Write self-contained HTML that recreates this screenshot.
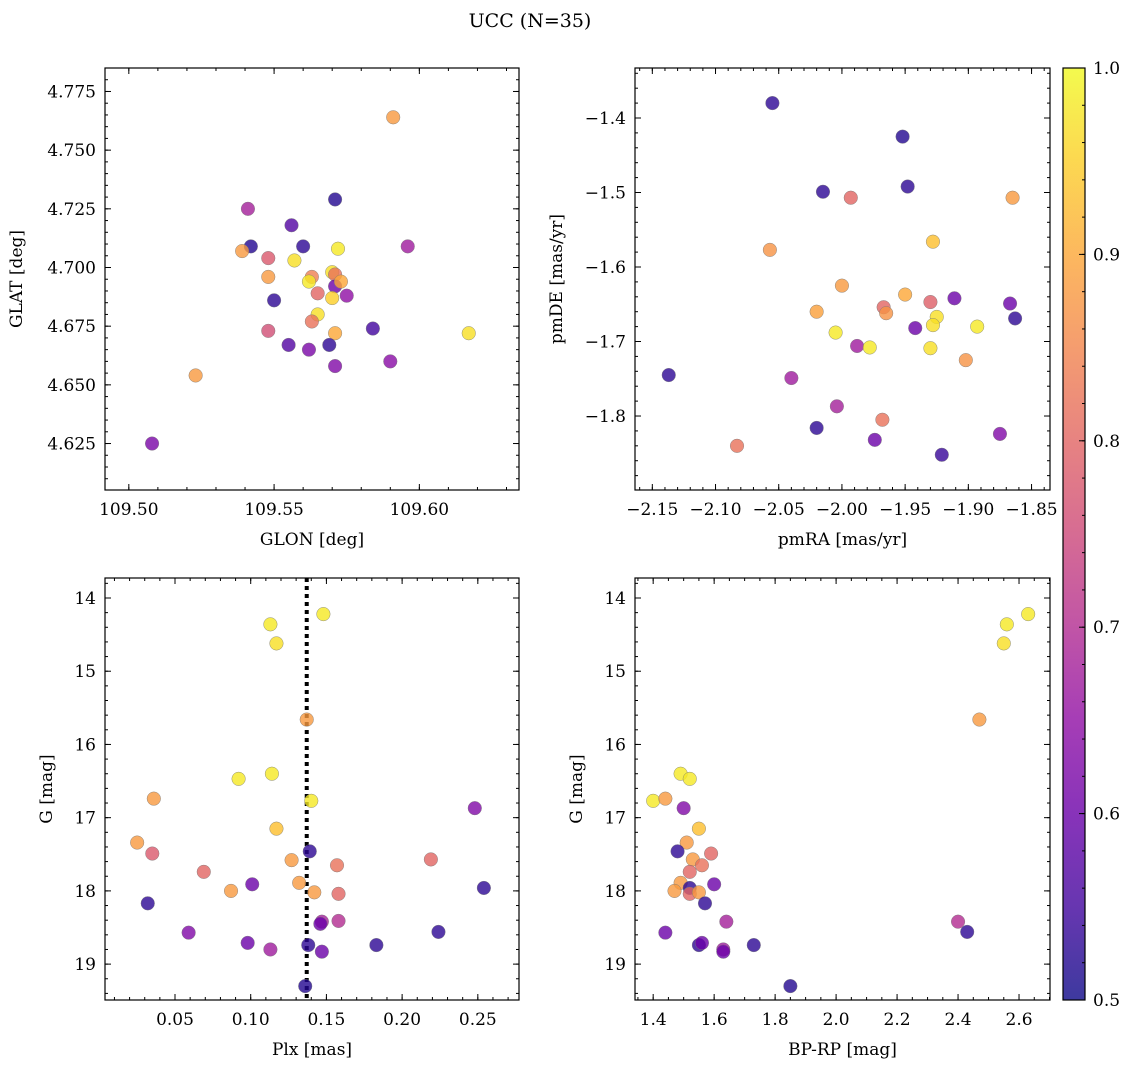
<!DOCTYPE html>
<html><head><meta charset="utf-8"><style>
html,body{margin:0;padding:0;background:#fff;}
svg{display:block;font-family:"DejaVu Serif","Liberation Serif",serif;}
</style></head><body>
<svg id="fig" width="1136" height="1067" viewBox="0 0 1136 1067" xmlns="http://www.w3.org/2000/svg">
<defs>
<linearGradient id="plasma" x1="0" y1="1" x2="0" y2="0">
<stop offset="0" stop-color="#0d0887"/><stop offset="0.1" stop-color="#41049d"/><stop offset="0.2" stop-color="#6a00a8"/><stop offset="0.3" stop-color="#8f0da4"/><stop offset="0.4" stop-color="#b12a90"/><stop offset="0.5" stop-color="#cc4778"/><stop offset="0.6" stop-color="#e16462"/><stop offset="0.7" stop-color="#f2844b"/><stop offset="0.8" stop-color="#fca636"/><stop offset="0.9" stop-color="#fcce25"/><stop offset="1" stop-color="#f0f921"/>
</linearGradient>
</defs>
<text x="530" y="27" font-size="19" text-anchor="middle">UCC (N=35)</text>
</svg>
<script>
// ---- Panel 1: GLON vs GLAT ----
const glon=[109.591,109.571,109.541,109.556,109.542,109.539,109.560,109.596,109.572,109.548,109.557,109.570,109.571,109.563,109.562,109.548,109.571,109.573,109.565,109.575,109.570,109.550,109.565,109.563,109.548,109.571,109.617,109.584,109.555,109.569,109.562,109.590,109.571,109.523,109.508];
const glat=[4.764,4.729,4.725,4.718,4.709,4.707,4.709,4.709,4.708,4.704,4.703,4.698,4.697,4.696,4.694,4.696,4.692,4.694,4.689,4.688,4.687,4.686,4.680,4.677,4.673,4.672,4.672,4.674,4.667,4.667,4.665,4.660,4.658,4.654,4.625];
const p1=[0.88,0.52,0.68,0.57,0.52,0.88,0.53,0.67,0.98,0.78,0.97,0.97,0.82,0.84,0.98,0.88,0.6,0.9,0.8,0.65,0.95,0.53,0.97,0.82,0.76,0.9,0.97,0.55,0.57,0.53,0.62,0.64,0.63,0.88,0.62];
// ---- Panel 2: pmRA vs pmDE ----
const pmra=[-2.055,-1.952,-1.948,-2.015,-1.993,-1.865,-2.057,-1.928,-2.000,-1.950,-1.911,-1.930,-1.867,-1.967,-2.020,-1.965,-1.863,-1.925,-1.928,-1.893,-1.942,-2.005,-1.988,-1.978,-1.930,-1.902,-2.137,-2.040,-2.004,-1.968,-2.020,-1.974,-1.875,-2.083,-1.921];
const pmde=[-1.380,-1.425,-1.492,-1.499,-1.507,-1.507,-1.577,-1.566,-1.625,-1.637,-1.642,-1.647,-1.649,-1.654,-1.660,-1.662,-1.669,-1.667,-1.678,-1.680,-1.682,-1.688,-1.706,-1.708,-1.709,-1.725,-1.745,-1.749,-1.787,-1.805,-1.816,-1.832,-1.824,-1.840,-1.852];
const p2=[0.53,0.52,0.53,0.53,0.8,0.88,0.87,0.93,0.88,0.9,0.6,0.79,0.6,0.8,0.89,0.87,0.53,0.97,0.97,0.98,0.6,0.98,0.67,0.98,0.97,0.87,0.53,0.67,0.68,0.82,0.53,0.6,0.63,0.82,0.54];
// ---- Panel 3: Plx vs G ----
const plx=[0.148,0.113,0.117,0.137,0.092,0.114,0.036,0.140,0.248,0.117,0.025,0.035,0.139,0.219,0.127,0.157,0.069,0.132,0.101,0.087,0.142,0.158,0.254,0.032,0.147,0.146,0.158,0.059,0.224,0.098,0.113,0.138,0.147,0.183,0.136];
const gmag3=[14.22,14.36,14.62,15.66,16.47,16.40,16.74,16.77,16.87,17.15,17.34,17.49,17.46,17.57,17.58,17.65,17.74,17.89,17.91,18.00,18.02,18.04,17.96,18.17,18.42,18.45,18.41,18.57,18.56,18.71,18.80,18.74,18.83,18.74,19.30];
const p3=[0.98,0.98,0.97,0.88,0.98,0.98,0.88,0.98,0.63,0.93,0.88,0.78,0.53,0.8,0.88,0.82,0.8,0.88,0.6,0.88,0.88,0.8,0.53,0.53,0.68,0.6,0.7,0.63,0.53,0.6,0.67,0.53,0.6,0.53,0.52];
const plxMark=[0.137];
// ---- Panel 4: BP-RP vs G ----
const bprp=[2.63,2.56,2.55,2.47,1.49,1.52,1.40,1.44,1.50,1.55,1.51,1.48,1.59,1.53,1.56,1.52,1.49,1.60,1.52,1.47,1.52,1.55,1.57,1.64,2.40,1.44,2.43,1.55,1.56,1.63,1.63,1.73,1.85];
const gmag4=[14.22,14.36,14.62,15.66,16.40,16.47,16.77,16.74,16.87,17.15,17.34,17.46,17.49,17.57,17.65,17.74,17.89,17.91,17.96,18.00,18.04,18.02,18.17,18.42,18.42,18.57,18.56,18.74,18.71,18.80,18.83,18.74,19.30];
const p4=[0.98,0.98,0.97,0.88,0.98,0.98,0.98,0.88,0.63,0.93,0.88,0.53,0.8,0.88,0.82,0.8,0.88,0.6,0.53,0.88,0.8,0.88,0.53,0.68,0.7,0.6,0.53,0.53,0.6,0.67,0.6,0.53,0.52];
// ---- Tick labels ----
const xt1=[109.50,109.55,109.60], xt1L=["109.50","109.55","109.60"];
const yt1=[4.625,4.650,4.675,4.700,4.725,4.750,4.775], yt1L=["4.625","4.650","4.675","4.700","4.725","4.750","4.775"];
const xt2=[-2.15,-2.10,-2.05,-2.00,-1.95,-1.90,-1.85], xt2L=["\u22122.15","\u22122.10","\u22122.05","\u22122.00","\u22121.95","\u22121.90","\u22121.85"];
const yt2=[-1.8,-1.7,-1.6,-1.5,-1.4], yt2L=["\u22121.8","\u22121.7","\u22121.6","\u22121.5","\u22121.4"];
const xt3=[0.05,0.10,0.15,0.20,0.25], xt3L=["0.05","0.10","0.15","0.20","0.25"];
const ytG=[14,15,16,17,18,19], ytGL=["14","15","16","17","18","19"];
const xt4=[1.4,1.6,1.8,2.0,2.2,2.4,2.6], xt4L=["1.4","1.6","1.8","2.0","2.2","2.4","2.6"];
const cbT=[0.5,0.6,0.7,0.8,0.9,1.0], cbTL=["0.5","0.6","0.7","0.8","0.9","1.0"];

const FS=17;
const NS="http://www.w3.org/2000/svg";
const svg=document.getElementById('fig');
function mk(tag,attrs,parent){const e=document.createElementNS(NS,tag);for(const k in attrs)e.setAttribute(k,attrs[k]);(parent||svg).appendChild(e);return e;}
const stops=[[0,[13,8,135]],[0.1,[65,4,157]],[0.2,[106,0,168]],[0.3,[143,13,164]],[0.4,[177,42,144]],[0.5,[204,71,120]],[0.6,[225,100,98]],[0.7,[242,132,75]],[0.8,[252,166,54]],[0.9,[252,206,37]],[1,[240,249,33]]];
function cmap(p){let t=Math.max(0,Math.min(1,(p-0.5)/0.5));for(let i=1;i<stops.length;i++){if(t<=stops[i][0]){const a=stops[i-1],b=stops[i];const f=(t-a[0])/(b[0]-a[0]);const c=a[1].map((v,j)=>Math.round(v+(b[1][j]-v)*f));return `rgb(${c[0]},${c[1]},${c[2]})`;}}return 'rgb(240,249,33)';}

function panel(cfg){
  const {name,box,xd,yd}=cfg;
  const g=mk('g',{});
  
  
  const sx=v=>box.x0+(v-xd[0])/(xd[1]-xd[0])*(box.x1-box.x0);
  const sy=v=>cfg.inv? box.y0+(v-yd[0])/(yd[1]-yd[0])*(box.y1-box.y0) : box.y1-(v-yd[0])/(yd[1]-yd[0])*(box.y1-box.y0);
  const tg=mk('g',{stroke:'#000','stroke-width':1},g);
  for(let v=cfg.xm0;v<=xd[1]+1e-9;v+=cfg.xmStep){const x=sx(v);if(x<box.x0||x>box.x1)continue;mk('line',{x1:x,x2:x,y1:box.y1,y2:box.y1-3},tg);mk('line',{x1:x,x2:x,y1:box.y0,y2:box.y0+3},tg);}
  for(let v=cfg.ym0;v<=Math.max(yd[0],yd[1])+1e-9;v+=cfg.ymStep){const y=sy(v);if(y<box.y0||y>box.y1)continue;mk('line',{x1:box.x0,x2:box.x0+3,y1:y,y2:y},tg);mk('line',{x1:box.x1,x2:box.x1-3,y1:y,y2:y},tg);}
  cfg.xt.forEach((v,i)=>{const x=sx(v);mk('line',{x1:x,x2:x,y1:box.y1,y2:box.y1-6},tg);mk('line',{x1:x,x2:x,y1:box.y0,y2:box.y0+6},tg);
    const t=mk('text',{x:x,y:box.y1+25,'font-size':FS,'text-anchor':'middle'},g);t.textContent=cfg.xtL[i];
    
    });
  cfg.yt.forEach((v,i)=>{const y=sy(v);mk('line',{x1:box.x0,x2:box.x0+6,y1:y,y2:y},tg);mk('line',{x1:box.x1,x2:box.x1-6,y1:y,y2:y},tg);
    const t=mk('text',{x:box.x0-9,y:y+6,'font-size':FS,'text-anchor':'end'},g);t.textContent=cfg.ytL[i];
    
    });
  if(cfg.vline){cfg.vline.forEach(v=>{const l=mk('line',{x1:sx(v),x2:sx(v),y1:box.y0,y2:box.y1,stroke:'#000','stroke-width':4,'stroke-dasharray':'4,4'},g);
    
    });}
  const pg=mk('g',{},g);
  cfg.xs.forEach((v,i)=>{const c=mk('circle',{cx:sx(v),cy:sy(cfg.ys[i]),r:6.8,fill:cmap(cfg.ps[i]),'fill-opacity':0.8,stroke:'#777','stroke-width':0.5,'stroke-opacity':0.8},pg);
    
    });
  mk('rect',{x:box.x0,y:box.y0,width:box.x1-box.x0,height:box.y1-box.y0,fill:'none',stroke:'#000','stroke-width':1.2},g);
  const xl=mk('text',{x:(box.x0+box.x1)/2,y:box.y1+55,'font-size':FS,'text-anchor':'middle'},g);xl.textContent=cfg.xlabel;
  
  
  const yx=cfg.ylx, yy=(box.y0+box.y1)/2;
  const yl=mk('text',{x:yx,y:yy,'font-size':FS,'text-anchor':'middle',transform:`rotate(-90 ${yx} ${yy})`},g);yl.textContent=cfg.ylabel;
  
  
}
const B1={x0:105,x1:519,y0:68,y1:490}, B2={x0:635,x1:1050,y0:68,y1:490}, B3={x0:105,x1:519,y0:578,y1:1000}, B4={x0:635,x1:1050,y0:578,y1:1000};
panel({name:'panel-glon-glat',box:B1,xd:[109.4918,109.6343],yd:[4.6052,4.7850],xs:glon,ys:glat,ps:p1,xt:xt1,xtL:xt1L,yt:yt1,ytL:yt1L,xm0:109.49,xmStep:0.01,ym0:4.605,ymStep:0.005,xlabel:'GLON [deg]',ylabel:'GLAT [deg]',ylx:22});
panel({name:'panel-pmra-pmde',box:B2,xd:[-2.1637,-1.8354],yd:[-1.8993,-1.3329],xs:pmra,ys:pmde,ps:p2,xt:xt2,xtL:xt2L,yt:yt2,ytL:yt2L,xm0:-2.16,xmStep:0.01,ym0:-1.88,ymStep:0.02,xlabel:'pmRA [mas/yr]',ylabel:'pmDE [mas/yr]',ylx:562});
panel({name:'panel-plx-g',box:B3,xd:[0.00376,0.2772],yd:[13.727,19.49],inv:true,xs:plx,ys:gmag3,ps:p3,xt:xt3,xtL:xt3L,yt:ytG,ytL:ytGL,xm0:0.01,xmStep:0.01,ym0:13.8,ymStep:0.2,xlabel:'Plx [mas]',ylabel:'G [mag]',ylx:52,vline:plxMark});
panel({name:'panel-bprp-g',box:B4,xd:[1.3404,2.7016],yd:[13.727,19.49],inv:true,xs:bprp,ys:gmag4,ps:p4,xt:xt4,xtL:xt4L,yt:ytG,ytL:ytGL,xm0:1.35,xmStep:0.05,ym0:13.8,ymStep:0.2,xlabel:'BP-RP [mag]',ylabel:'G [mag]',ylx:582});
const cb=mk('g',{});


const cx0=1063,cx1=1085,cy0=68,cy1=1000;
mk('rect',{x:cx0,y:cy0,width:cx1-cx0,height:cy1-cy0,fill:'url(#plasma)','fill-opacity':0.8},cb);
const cby=v=>cy1-(v-0.5)/0.5*(cy1-cy0);
for(let v=0.52;v<1.0;v+=0.02){const y=cby(v);mk('line',{x1:cx1,x2:cx1-3,y1:y,y2:y,stroke:'#000'},cb);}
cbT.forEach((v,i)=>{const y=cby(v);mk('line',{x1:cx1,x2:cx1-6,y1:y,y2:y,stroke:'#000'},cb);
  const t=mk('text',{x:cx1+8,y:y+6,'font-size':FS},cb);t.textContent=cbTL[i];
  
  });
mk('rect',{x:cx0,y:cy0,width:cx1-cx0,height:cy1-cy0,fill:'none',stroke:'#000','stroke-width':1.2},cb);
</script>
</body></html>
